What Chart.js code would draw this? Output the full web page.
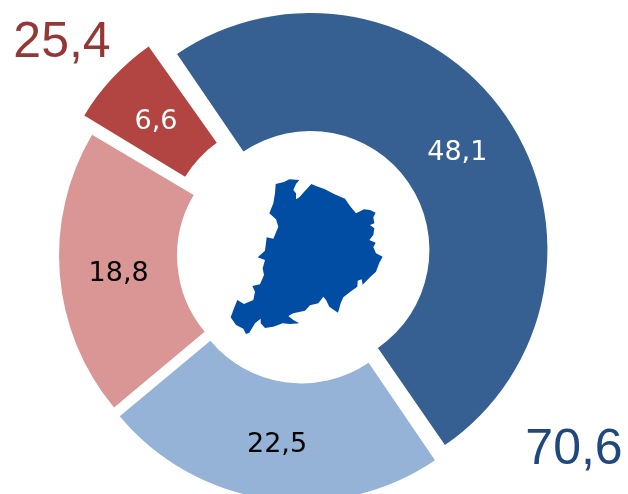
<!DOCTYPE html>
<html>
<head>
<meta charset="utf-8">
<script src="https://cdn.jsdelivr.net/npm/chart.js@4"></script>
<style>
  html, body { margin: 0; background: #fff; overflow: hidden; width: 628px; height: 494px; }
  #chart { position: absolute; left: 1px; top: 1px; }
  #map { position: absolute; left: 210px; top: 160px; width: 190px; height: 190px; }
</style>
</head>
<body>
<canvas id="chart" width="628" height="508"></canvas>
<svg id="map" viewBox="0 0 570 570">
  <polygon fill="#004DA3" points="197,72 222,66 238,58 268,60 258,72 250,90 258,100 258,118 268,112 282,96 304,72 318,78 345,88 372,102 405,116 420,138 438,160 462,148 480,150 497,158 490,172 493,190 480,195 493,205 490,225 478,240 497,248 490,262 498,280 518,290 508,308 498,335 480,352 458,374 455,358 443,362 442,380 420,396 400,412 392,430 384,458 372,450 358,440 348,420 340,410 325,430 300,436 285,452 250,460 235,468 250,480 268,490 240,492 218,490 190,500 165,504 152,490 152,476 135,490 118,518 108,522 100,506 78,495 62,472 72,445 82,420 102,432 130,420 135,395 127,378 150,373 162,345 158,325 165,300 143,292 165,272 170,232 190,236 205,200 198,178 178,160 190,130 195,100"/>
</svg>
<script>
const values = [48.1, 22.5, 18.8, 6.6];
const valueLabels = ['48,1', '22,5', '18,8', '6,6'];
const sliceColors = ['#366092', '#95B3D7', '#D99694', '#B24442'];
const labelColors = ['#FFFFFF', '#000000', '#000000', '#FFFFFF'];
const sliceOffsets = [36, 38, 28, 112];
const totals = ['25,4', '70,6'];
const totalColors = ['#953735', '#1F497D'];

// the small red slice is a bit smaller than the others in the original
const SMALL_SLICE = 3;
const SMALL_SLICE_SHRINK = 5;

// Chart.js also grows an arc's radii when it has an offset, this is that growth
function radiusGrowth(arc, offset) {
  const fix = 1 - Math.sin(Math.min(Math.PI, arc.circumference));
  return offset / 4 * fix;
}

const sliceTweaks = {
  id: 'sliceTweaks',
  afterDatasetsUpdate(chart) {
    chart.getDatasetMeta(0).data.forEach((arc, i) => {
      const cut = radiusGrowth(arc, sliceOffsets[i]) + (i === SMALL_SLICE ? SMALL_SLICE_SHRINK : 0);
      arc.outerRadius -= cut;
      arc.innerRadius -= cut;
    });
  }
};

const textLabels = {
  id: 'textLabels',
  afterDatasetsDraw(chart) {
    const ctx = chart.ctx;
    ctx.save();
    ctx.textAlign = 'center';
    ctx.textBaseline = 'middle';
    ctx.font = '27px "DejaVu Sans"';
    chart.getDatasetMeta(0).data.forEach((arc, i) => {
      const mid = (arc.startAngle + arc.endAngle) / 2;
      const offset = sliceOffsets[i];
      const dist = (arc.innerRadius + arc.outerRadius) / 2 + radiusGrowth(arc, offset) + offset / 4;
      ctx.fillStyle = labelColors[i];
      // labels sit a little under the slice middle in the original
      ctx.fillText(valueLabels[i], arc.x + Math.cos(mid) * dist, arc.y + Math.sin(mid) * dist + 4);
    });
    ctx.font = '50px "Liberation Sans"';
    ctx.fillStyle = totalColors[0];
    ctx.fillText(totals[0], 61, 42);
    ctx.fillStyle = totalColors[1];
    ctx.fillText(totals[1], 573, 449);
    ctx.restore();
  }
};

new Chart(document.getElementById('chart'), {
  type: 'doughnut',
  data: {
    labels: valueLabels,
    datasets: [{
      data: values,
      backgroundColor: sliceColors,
      borderWidth: 0,
      offset: sliceOffsets,
      clip: false
    }]
  },
  options: {
    responsive: false,
    animation: false,
    rotation: -34.6,
    radius: 237,
    cutout: '50.2%',
    layout: { padding: { right: 24 } },
    plugins: {
      legend: { display: false },
      tooltip: { enabled: false }
    }
  },
  plugins: [sliceTweaks, textLabels]
});
</script>
</body>
</html>
